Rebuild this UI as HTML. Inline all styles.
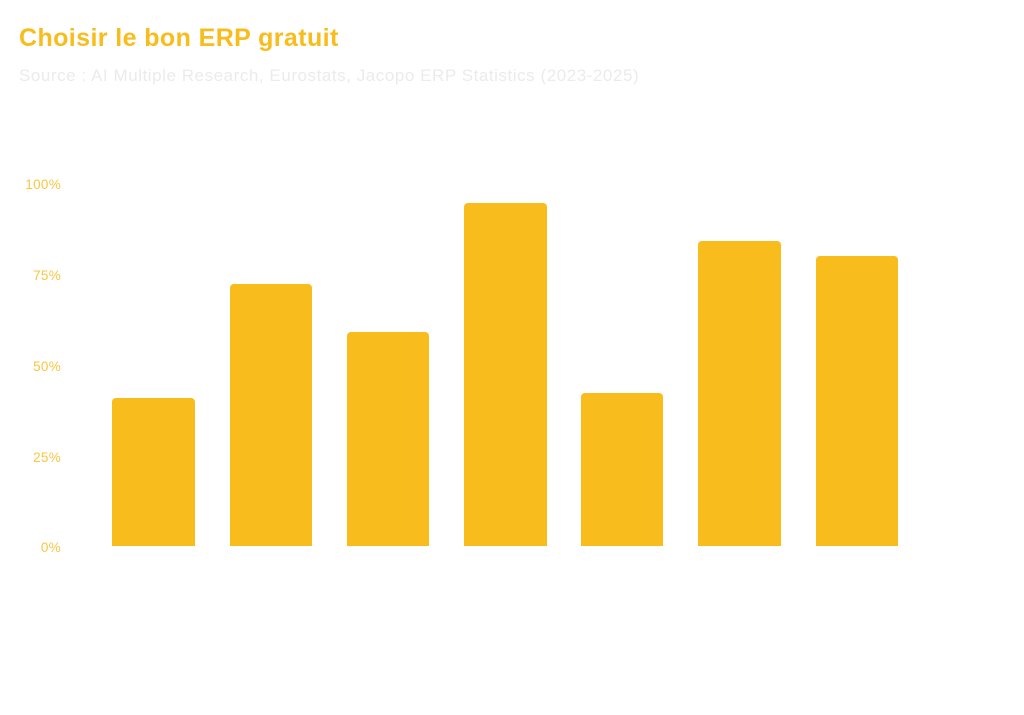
<!DOCTYPE html>
<html><head><meta charset="utf-8"><style>
html,body{margin:0;padding:0;background:#fff;}
body{width:1024px;height:715px;position:relative;overflow:hidden;font-family:"Liberation Sans",sans-serif;}
.t{position:absolute;left:19px;top:24px;font-size:25px;font-weight:bold;color:#F8BC1C;letter-spacing:0.4px;}
.s{position:absolute;left:19px;top:66px;font-size:17px;color:#ebebeb;letter-spacing:0.55px;}
.y{position:absolute;width:60px;right:963px;text-align:right;font-size:13.5px;color:#F9C640;letter-spacing:0.3px;}
.b{position:absolute;background:#F8BC1C;border-radius:4px 4px 0 0;bottom:169px;}
</style></head><body>
<div class="t">Choisir le bon ERP gratuit</div>
<div class="s">Source : AI Multiple Research, Eurostats, Jacopo ERP Statistics (2023-2025)</div>
<div class="y" style="top:177px">100%</div>
<div class="y" style="top:268px">75%</div>
<div class="y" style="top:359px">50%</div>
<div class="y" style="top:450px">25%</div>
<div class="y" style="top:540px">0%</div>
<div class="b" style="left:112px;width:83px;height:148px"></div>
<div class="b" style="left:230px;width:82px;height:262px"></div>
<div class="b" style="left:347px;width:82px;height:214px"></div>
<div class="b" style="left:464px;width:83px;height:343px"></div>
<div class="b" style="left:581px;width:82px;height:153px"></div>
<div class="b" style="left:698px;width:83px;height:305px"></div>
<div class="b" style="left:816px;width:82px;height:290px"></div>
</body></html>
